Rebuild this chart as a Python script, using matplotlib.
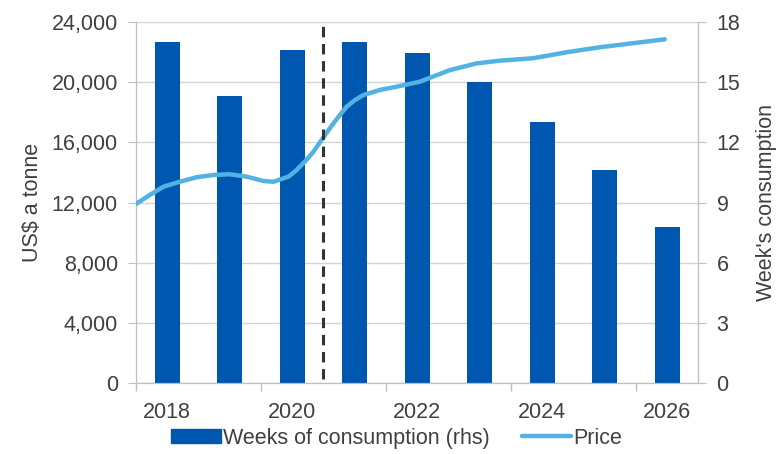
import matplotlib
matplotlib.use("Agg")
from matplotlib import pyplot as plt
from matplotlib.ticker import FuncFormatter, MultipleLocator

plt.rcParams['font.family'] = ['Liberation Sans', 'DejaVu Sans']

# data
years = [2018, 2019, 2020, 2021, 2022, 2023, 2024, 2025, 2026]
weeks = [17.0, 14.3, 16.6, 17.0, 16.45, 15.0, 13.0, 10.6, 7.8]

# price (US$ a tonne), read at many points along the curve
price_t = [2017.5, 2017.72, 2017.94, 2018.2, 2018.47, 2018.74, 2019.0, 2019.27,
           2019.54, 2019.7, 2019.94, 2020.07, 2020.2, 2020.34, 2020.47, 2020.6,
           2020.74, 2020.87, 2021.0, 2021.14, 2021.4, 2021.67, 2022.04, 2022.52,
           2022.95, 2023.32, 2023.85, 2024.39, 2024.92, 2025.45, 2025.96]
price = [11900, 12500, 13050, 13380, 13680, 13830, 13880, 13720,
         13430, 13380, 13720, 14160, 14710, 15380, 16160, 16930,
         17700, 18370, 18800, 19150, 19480, 19700, 20030, 20800,
         21250, 21430, 21590, 21990, 22320, 22590, 22850]

forecast_start = 2020.5

bar_color = '#0057b0'
line_color = '#52b2e2'
text_color = '#404040'
axis_color = '#bfbfbf'
fs = 15.5

fig = plt.figure(figsize=(7.78, 4.54), dpi=100)
ax_w = fig.add_axes([0.1748, 0.1564, 0.7230, 0.7951])  # weeks (rhs), bottom layer
ax = ax_w.twinx()
ax.set_zorder(ax_w.get_zorder() + 1)
ax.patch.set_visible(False)

# bars on rhs axis
ax_w.bar(years, weeks, width=0.4, color=bar_color, zorder=2)
ax_w.set_ylim(0, 18)
ax_w.yaxis.set_major_locator(MultipleLocator(3))
ax_w.set_axisbelow(True)
ax_w.grid(axis='y', color='#d4d4d4', linewidth=1)
ax_w.yaxis.tick_right()
ax_w.yaxis.set_label_position('right')
ax_w.set_ylabel("Week's consumption", fontsize=fs, color=text_color, labelpad=11)

# price line on lhs axis
ax.plot(price_t, price, color=line_color, linewidth=3.2, solid_capstyle='round',
        solid_joinstyle='round', zorder=3)
ax.axvline(forecast_start, ymin=0.01, ymax=1, color='#333333', linewidth=2.2,
           dashes=(3.4, 2.2), zorder=4)
ax.set_ylim(0, 24000)
ax.yaxis.set_major_locator(MultipleLocator(4000))
ax.yaxis.set_major_formatter(FuncFormatter(lambda v, p: f'{int(v):,}'))
ax.yaxis.tick_left()
ax.yaxis.set_label_position('left')
ax.set_ylabel('US$ a tonne', fontsize=fs, color=text_color, labelpad=6)

ax_w.set_xlim(2017.5, 2026.5)
ax_w.set_xticks([2018, 2020, 2022, 2024, 2026])
ax_w.set_xticks([2017.5, 2019.5, 2021.5, 2023.5, 2025.5], minor=True)
ax_w.tick_params(axis='x', which='major', length=0, pad=14, labelsize=fs, labelcolor=text_color)
ax_w.tick_params(axis='x', which='minor', length=6, color=axis_color, width=1)
ax_w.tick_params(axis='y', length=6, color=axis_color, pad=7, labelsize=fs, labelcolor=text_color)
ax.tick_params(axis='y', length=6, color=axis_color, pad=7, labelsize=fs, labelcolor=text_color)

for a in (ax, ax_w):
    a.spines['top'].set_visible(False)
    for s in ('left', 'right', 'bottom'):
        a.spines[s].set_color(axis_color)

handles = [plt.Rectangle((0, 0), 1, 1, color=bar_color),
           plt.Line2D([0], [0], color=line_color, linewidth=3.2, solid_capstyle='round')]
fig.legend(handles, ['Weeks of consumption (rhs)', 'Price'], loc='center',
           bbox_to_anchor=(0.51, 0.035), ncol=2, frameon=False, fontsize=fs,
           handlelength=2.3, handleheight=0.6, handletextpad=0.1, columnspacing=1.5,
           labelcolor=text_color)

plt.savefig('out.png', dpi=100)
plt.close()
